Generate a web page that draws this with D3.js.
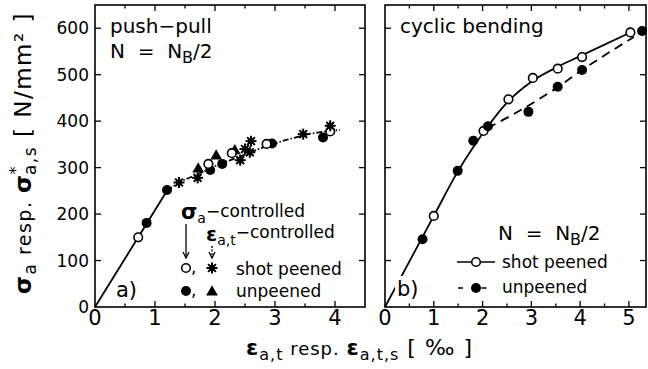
<!DOCTYPE html>
<html lang="en">
<head>
<meta charset="UTF-8">
<title>Cyclic stress-strain curves</title>
<script src="https://d3js.org/d3.v7.min.js"></script>
<style>
  body { margin: 0; background: #fff; }
  svg { font-family: "DejaVu Sans", sans-serif; }
  .frame { fill: none; stroke: #000; stroke-width: 1.6px; }
  .tick { stroke: #000; stroke-width: 1.3px; }
  .curve { fill: none; stroke: #000; stroke-width: 1.8px; }
</style>
</head>
<body>
<svg width="648" height="369"></svg>
<script>
// strain amplitude [per mille], stress amplitude [N/mm2]
// a) push-pull
const ppSigmaPeened   = [[0.72,150],[1.89,308],[2.28,331],[2.86,351],[3.92,378]];
const ppSigmaUnpeened = [[0.86,181],[1.2,252],[1.92,295],[2.12,308],[2.95,352],[3.8,365]];
const ppEpsPeened     = [[1.4,268],[1.71,278],[2.42,316],[2.5,340],[2.58,333],[2.6,357],[3.47,372],[3.92,390]];
const ppEpsUnpeened   = [[1.72,297],[2.02,325],[2.33,336]];
const ppFitSolid  = [[0,0],[1.2,250]];
const ppFitDashed = [[1.2,250],[1.4,268],[1.7,285],[2.0,303],[2.4,323],[2.9,348],[3.2,360],[3.6,373],[4.08,381]];
// b) cyclic bending
const cbPeened   = [[1.0,196],[2.02,379],[2.53,447],[3.03,493],[3.54,513],[4.04,538],[5.03,591]];
const cbUnpeened = [[0.77,146],[1.49,293],[1.81,358],[2.11,389],[2.94,420],[3.54,474],[4.04,510],[5.27,594]];
const cbFitPeened   = [[0,0],[1.0,196],[1.5,293],[2.0,373],[2.5,440],[3.0,485],[3.5,515],[4.0,540],[5.05,592]];
const cbFitUnpeened = [[2.1,385],[2.9,431],[3.59,477],[4.04,510],[5.1,581]];

const yTicks  = [0,100,200,300,400,500,600];
const xTicksA = [0,1,2,3,4];
const xTicksB = [0,1,2,3,4,5];

const svg = d3.select("svg");
const y  = d3.scaleLinear().domain([0, 650]).range([307, 5]);
const xA = d3.scaleLinear().domain([0, 4.5]).range([95, 365]);
const xB = d3.scaleLinear().domain([0, 5.35]).range([385, 646]);

function frame(x, majors) {
    const g = svg.append("g");
    const [x0, x1] = x.range();
    const yb = y(0), yt = y.range()[1];
    g.append("rect").attr("class", "frame")
        .attr("x", x0).attr("y", yt).attr("width", x1 - x0).attr("height", yb - yt);
    const minors = d3.range(0.5, x.domain()[1], 1);
    const xt = majors.filter(d => d > 0).map(d => [d, 6]).concat(minors.map(d => [d, 3.5]));
    xt.forEach(([v, len]) => {
        g.append("line").attr("class", "tick").attr("x1", x(v)).attr("x2", x(v)).attr("y1", yb).attr("y2", yb - len);
        g.append("line").attr("class", "tick").attr("x1", x(v)).attr("x2", x(v)).attr("y1", yt).attr("y2", yt + len);
    });
    yTicks.filter(d => d > 0).forEach(v => {
        g.append("line").attr("class", "tick").attr("x1", x0).attr("x2", x0 + 6).attr("y1", y(v)).attr("y2", y(v));
        g.append("line").attr("class", "tick").attr("x1", x1).attr("x2", x1 - 6).attr("y1", y(v)).attr("y2", y(v));
    });
    g.selectAll(".xl").data(majors).enter().append("text")
        .attr("x", d => x(d)).attr("y", 325)
        .attr("text-anchor", "middle").attr("font-size", 21)
        .text(d => d);
    return g;
}

frame(xA, xTicksA);
frame(xB, xTicksB);

// y tick labels
svg.selectAll(".yl").data(yTicks).enter().append("text")
    .attr("x", 89).attr("y", d => y(d) + 6)
    .attr("text-anchor", "end").attr("font-size", 17)
    .text(d => d);

const line = (x) => d3.line().x(d => x(d[0])).y(d => y(d[1])).curve(d3.curveMonotoneX);

// curves
svg.append("path").attr("class", "curve").attr("d", line(xA)(ppFitSolid));
svg.append("path").attr("class", "curve").attr("stroke-dasharray", "6,2,1.5,2").attr("stroke-width", 1.3).attr("d", line(xA)(ppFitDashed));
svg.append("path").attr("class", "curve").attr("d", line(xB)(cbFitPeened));
svg.append("path").attr("class", "curve").attr("stroke-dasharray", "9,6").attr("d", line(xB)(cbFitUnpeened));

// marker painters
function star(g, cx, cy, r) {
    const s = g.append("g").attr("transform", `translate(${cx},${cy})`);
    d3.range(8).forEach(i => {
        const a = i * Math.PI / 4;
        s.append("line").attr("x1", 0).attr("y1", 0)
            .attr("x2", r * Math.cos(a)).attr("y2", r * Math.sin(a))
            .attr("stroke", "#000").attr("stroke-width", 2);
    });
    s.append("circle").attr("r", r * 0.55).attr("fill", "#000");
}
function openC(g, cx, cy) {
    g.append("circle").attr("cx", cx).attr("cy", cy).attr("r", 4.3)
        .attr("fill", "#fff").attr("stroke", "#000").attr("stroke-width", 1.6);
}
function fillC(g, cx, cy) {
    g.append("circle").attr("cx", cx).attr("cy", cy).attr("r", 5).attr("fill", "#000");
}
function tri(g, cx, cy) {
    g.append("path").attr("transform", `translate(${cx},${cy})`)
        .attr("d", d3.symbol().type(d3.symbolTriangle).size(60)()).attr("fill", "#000");
}

const mk = svg.append("g");
ppEpsUnpeened.forEach(d => tri(mk, xA(d[0]), y(d[1])));
ppSigmaUnpeened.forEach(d => fillC(mk, xA(d[0]), y(d[1])));
ppSigmaPeened.forEach(d => openC(mk, xA(d[0]), y(d[1])));
ppEpsPeened.forEach(d => star(mk, xA(d[0]), y(d[1]), 5.5));
cbPeened.forEach(d => openC(mk, xB(d[0]), y(d[1])));
cbUnpeened.forEach(d => fillC(mk, xB(d[0]), y(d[1])));

// panel texts
svg.append("text").attr("x", 110).attr("y", 33).attr("font-size", 20).text("push\u2212pull");
function nText(x, yy) {
    const t = svg.append("text").attr("x", x).attr("y", yy).attr("font-size", 20).attr("xml:space", "preserve");
    t.append("tspan").text("N  =  N");
    t.append("tspan").attr("dy", 5).attr("font-size", 16).text("B");
    t.append("tspan").attr("dy", -5).text("/2");
}
nText(110, 58);
svg.append("text").attr("x", 400).attr("y", 33).attr("font-size", 20).text("cyclic bending");
nText(498, 240);

svg.append("text").attr("x", 116).attr("y", 297).attr("font-size", 21).text("a)");
svg.append("rect").attr("x", 395).attr("y", 276).attr("width", 24).attr("height", 24).attr("fill", "#fff");
svg.append("text").attr("x", 397).attr("y", 296).attr("font-size", 21).text("b)");

// legend a)
const la = svg.append("g");
let t = la.append("text").attr("x", 181).attr("y", 219);
t.append("tspan").attr("font-size", 21).attr("font-weight", "bold").text("\u03c3");
t.append("tspan").attr("font-size", 14).attr("dy", 4).text("a");
t.append("tspan").attr("font-size", 17).attr("dy", -6).text("\u2212controlled");
t = la.append("text").attr("x", 206).attr("y", 241);
t.append("tspan").attr("font-size", 20).attr("font-weight", "bold").text("\u03b5");
t.append("tspan").attr("font-size", 14).attr("dy", 4).text("a,t");
t.append("tspan").attr("font-size", 17).attr("dy", -7).text("\u2212controlled");
function arrow(x, y1, y2, dash) {
    la.append("line").attr("x1", x).attr("x2", x).attr("y1", y1).attr("y2", y2 - 2)
        .attr("stroke", "#000").attr("stroke-width", 1.3).attr("stroke-dasharray", dash);
    la.append("path").attr("d", `M${x - 3},${y2 - 6}L${x},${y2}L${x + 3},${y2 - 6}`)
        .attr("fill", "none").attr("stroke", "#000").attr("stroke-width", 1.3);
}
arrow(186, 224, 258, null);
arrow(212, 246, 258, "2,1.5");
openC(la, 186, 268);
la.append("text").attr("x", 191).attr("y", 273).attr("font-size", 17).text(",");
star(la, 212, 268, 5.5);
la.append("text").attr("x", 236).attr("y", 275).attr("font-size", 17).text("shot peened");
fillC(la, 186, 291);
la.append("text").attr("x", 191).attr("y", 296).attr("font-size", 17).text(",");
tri(la, 212, 292);
la.append("text").attr("x", 236).attr("y", 297).attr("font-size", 17).text("unpeened");

// legend b)
const lb = svg.append("g");
lb.append("line").attr("x1", 457).attr("x2", 495).attr("y1", 262).attr("y2", 262).attr("stroke", "#000").attr("stroke-width", 1.6);
openC(lb, 476, 262);
lb.append("text").attr("x", 502).attr("y", 268).attr("font-size", 17).text("shot peened");
lb.append("line").attr("x1", 458).attr("x2", 495).attr("y1", 288).attr("y2", 288).attr("stroke", "#000").attr("stroke-width", 1.6).attr("stroke-dasharray", "5,8.5,0,10");
fillC(lb, 476, 288);
lb.append("text").attr("x", 502).attr("y", 293).attr("font-size", 17).text("unpeened");

// axis titles
t = svg.append("text").attr("x", 246).attr("y", 355).attr("font-size", 22).attr("letter-spacing", 1);
t.append("tspan").attr("font-weight", "bold").text("\u03b5");
t.append("tspan").attr("font-size", 16).attr("dy", 5).text("a,t");
t.append("tspan").attr("font-size", 18).attr("dy", -5).text(" resp. ");
t.append("tspan").attr("font-weight", "bold").text("\u03b5");
t.append("tspan").attr("font-size", 16).attr("dy", 5).text("a,t,s");
t.append("tspan").attr("dy", -5).text(" [ \u2030 ]");

t = svg.append("text").attr("transform", "translate(31,153) rotate(-90)")
    .attr("text-anchor", "middle").attr("font-size", 23).attr("letter-spacing", 1.5);
t.append("tspan").attr("font-weight", "bold").text("\u03c3");
t.append("tspan").attr("font-size", 17).attr("dy", 5).text("a");
t.append("tspan").attr("font-size", 19).attr("dy", -5).text(" resp. ");
t.append("tspan").attr("font-weight", "bold").text("\u03c3");
t.append("tspan").attr("font-size", 16).attr("dy", -10).attr("dx", -1).text("*");
t.append("tspan").attr("font-size", 17).attr("dy", 15).attr("dx", -10).text("a,s");
t.append("tspan").attr("dy", -5).text(" [ N/mm\u00b2 ]");
</script>
</body>
</html>
